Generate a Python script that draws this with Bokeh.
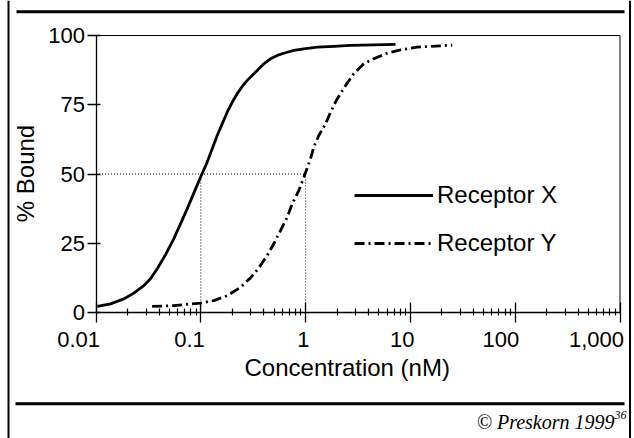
import numpy as np
from bokeh.plotting import figure
from bokeh.models import (FixedTicker, Label, LabelSet, ColumnDataSource, Legend,
                          LegendItem, PolyAnnotation, CustomJSTickFormatter, Range1d,
                          LogAxis, LinearAxis)
from bokeh.core.properties import value
from bokeh.embed import file_html
from bokeh.resources import INLINE

# ---- data ----
conc_x = [0.0103, 0.01375, 0.0184, 0.02295, 0.0286, 0.0331, 0.0384, 0.0461, 0.0552,
          0.064, 0.0741, 0.0857, 0.0994, 0.1151, 0.1285, 0.1434, 0.160, 0.1786,
          0.1993, 0.2225, 0.2483, 0.2771, 0.3093, 0.3453, 0.3992, 0.4626, 0.5358,
          0.6194, 0.7719, 0.9612, 1.2907, 1.858, 2.682, 4.475, 7.21]
bound_x = [2.2, 3.1, 4.9, 7.0, 9.7, 12.2, 15.8, 20.9, 26.6,
           32.0, 37.4, 43.1, 48.8, 54.3, 59.1, 63.9, 68.1, 72.3,
           75.9, 79.0, 81.6, 83.8, 85.6, 87.4, 89.8, 91.6, 92.8,
           93.6, 94.6, 95.2, 95.8, 96.1, 96.4, 96.6, 96.8]
conc_y = [0.0343, 0.0553, 0.0994, 0.1331, 0.179, 0.2392, 0.298, 0.3576, 0.43,
          0.4973, 0.576, 0.6675, 0.745, 0.8611, 0.962, 1.0, 1.114, 1.197, 1.337,
          1.549, 1.729, 2.0, 2.403, 2.88, 3.592, 4.47, 6.006, 8.05, 11.61, 15.6, 25.1]
bound_y = [2.2, 2.5, 3.4, 4.3, 6.1, 9.1, 12.5, 16.1, 20.6,
           24.8, 29.6, 34.4, 39.2, 44.0, 48.8, 50.6, 55.5, 59.7, 63.9,
           68.1, 72.3, 77.1, 81.9, 86.2, 89.8, 91.6, 93.6, 94.8, 95.8, 96.1, 96.5]
series_names = ["Receptor X", "Receptor Y"]
x_ticks = [0.01, 0.1, 1, 10, 100, 1000]
x_tick_labels = ["0.01", "0.1", "1", "10", "100", "1,000"]
y_ticks = [0, 25, 50, 75, 100]
ec50_x = 0.1
ec50_y = 1.0
half_bound = 50
x_title = "Concentration (nM)"
y_title = "% Bound"
credit = "\u00a9 Preskorn 1999"
credit_ref = "36"

SANS = "Liberation Sans"
SERIF = "Liberation Serif"

# ---- layout geometry (pixels) ----
W, H = 634, 438
X0_PX = 95.5      # pixel of first x tick
DEC_PX = 104.8    # pixels per decade
Y0_PX = 312.0     # pixel row of y = 0
UNIT_PX = 2.77    # pixels per % unit

x_start = x_ticks[0] * 10 ** (-X0_PX / DEC_PX)
x_end = x_ticks[0] * 10 ** ((W - X0_PX) / DEC_PX)
y_start = y_ticks[0] - (H - Y0_PX) / UNIT_PX
y_end = y_ticks[0] + Y0_PX / UNIT_PX

p = figure(width=W, height=H, x_axis_type="log",
           x_range=Range1d(x_start, x_end), y_range=Range1d(y_start, y_end),
           x_axis_location=None, y_axis_location=None,
           output_backend="svg", toolbar_location=None, min_border=0)
for g in p.grid:
    g.visible = False
p.outline_line_color = None
p.background_fill_color = "white"
p.border_fill_color = "white"

# x axis
minor = [m * 10.0 ** e for e in range(-2, 3) for m in range(2, 10)]
xa = LogAxis(fixed_location=y_ticks[0], bounds=(x_ticks[0], x_ticks[-1]),
             ticker=FixedTicker(ticks=x_ticks, minor_ticks=minor),
             formatter=CustomJSTickFormatter(code="return ''"),
             axis_line_width=1.3, axis_line_color="black",
             major_tick_in=10, major_tick_out=10, major_tick_line_width=1.3,
             major_tick_line_color="black",
             minor_tick_in=4, minor_tick_out=3, minor_tick_line_width=1.2,
             minor_tick_line_color="black", major_label_standoff=0)
p.add_layout(xa, "below")

# y axis
ya = LinearAxis(fixed_location=x_ticks[0], bounds=(y_ticks[0], y_ticks[-1]),
                ticker=FixedTicker(ticks=y_ticks, minor_ticks=[]),
                axis_line_width=1.3, axis_line_color="black",
                major_tick_in=4, major_tick_out=9, major_tick_line_width=1.3,
                major_tick_line_color="black", minor_tick_line_color=None,
                major_label_standoff=2, major_label_text_font=SANS,
                major_label_text_font_size="22px", major_label_text_color="black")
p.add_layout(ya, "left")

# top and right edges of the plot box
p.segment(x0=[x_ticks[0], x_ticks[-1]], y0=[y_ticks[-1], y_ticks[0]],
          x1=[x_ticks[-1], x_ticks[-1]], y1=[y_ticks[-1], y_ticks[-1]],
          line_color="black", line_width=1)

# x tick labels
tick_src = ColumnDataSource(dict(x=x_ticks, y=[y_ticks[0]] * len(x_ticks), text=x_tick_labels))
p.add_layout(LabelSet(x="x", y="y", text="text", source=tick_src,
                      text_align="right", text_baseline="middle",
                      x_offset=4, y_offset=-27,
                      text_font=value(SANS), text_font_size=value("22px"),
                      text_color="black"))

# reference dotted lines
p.segment(x0=[x_ticks[0], ec50_x, ec50_y], y0=[half_bound, y_ticks[0], y_ticks[0]],
          x1=[ec50_y, ec50_x, ec50_y], y1=[half_bound, half_bound, half_bound],
          line_color="black", line_width=1, line_dash="1 2")

# curves
rx = p.line(conc_x, bound_x, line_color="black", line_width=2.8, line_join="round")
ry = p.line(conc_y, bound_y, line_color="black", line_width=2.8, line_dash="10 4 2 4")

legend = Legend(items=[LegendItem(label=series_names[0], renderers=[rx]),
                       LegendItem(label=series_names[1], renderers=[ry])],
                location=(354, 181), glyph_width=79, glyph_height=20,
                label_height=20, label_standoff=4, spacing=20, padding=0, margin=0,
                border_line_color=None, background_fill_alpha=0,
                label_text_font=SANS, label_text_font_size="24px",
                label_text_color="black")
p.add_layout(legend)

# axis titles (screen units from bottom-left of canvas)
p.add_layout(Label(x=244, y=H - 367, x_units="screen", y_units="screen", text=x_title,
                   text_align="left", text_baseline="middle",
                   text_font=SANS, text_font_size="24px", text_color="black"))
p.add_layout(Label(x=25, y=H - 173, x_units="screen", y_units="screen", text=y_title,
                   angle=np.pi / 2, text_align="center", text_baseline="middle",
                   text_font=SANS, text_font_size="24px", text_color="black"))

# credit
p.add_layout(Label(x=614, y=H - 421, x_units="screen", y_units="screen", text=credit,
                   text_align="right", text_baseline="middle",
                   text_font=SERIF, text_font_style="italic", text_font_size="20px",
                   text_color="black"))
p.add_layout(Label(x=614, y=H - 414, x_units="screen", y_units="screen", text=credit_ref,
                   text_align="left", text_baseline="middle",
                   text_font=SERIF, text_font_style="italic", text_font_size="12px",
                   text_color="black"))

# page decorations
def rule(xs, ys, w):
    p.add_layout(PolyAnnotation(xs=xs, ys=[H - v for v in ys], xs_units="screen",
                                ys_units="screen", fill_alpha=0, line_color="black",
                                line_alpha=1.0, line_width=w))

rule([8, 8], [0, H], 2)
rule([629.5, 629.5], [0, H], 2)
rule([16, 624], [11.3, 11.3], 3)
rule([15, 624], [403.3, 403.3], 3)

open("out.html", "w").write(file_html(p, INLINE))
